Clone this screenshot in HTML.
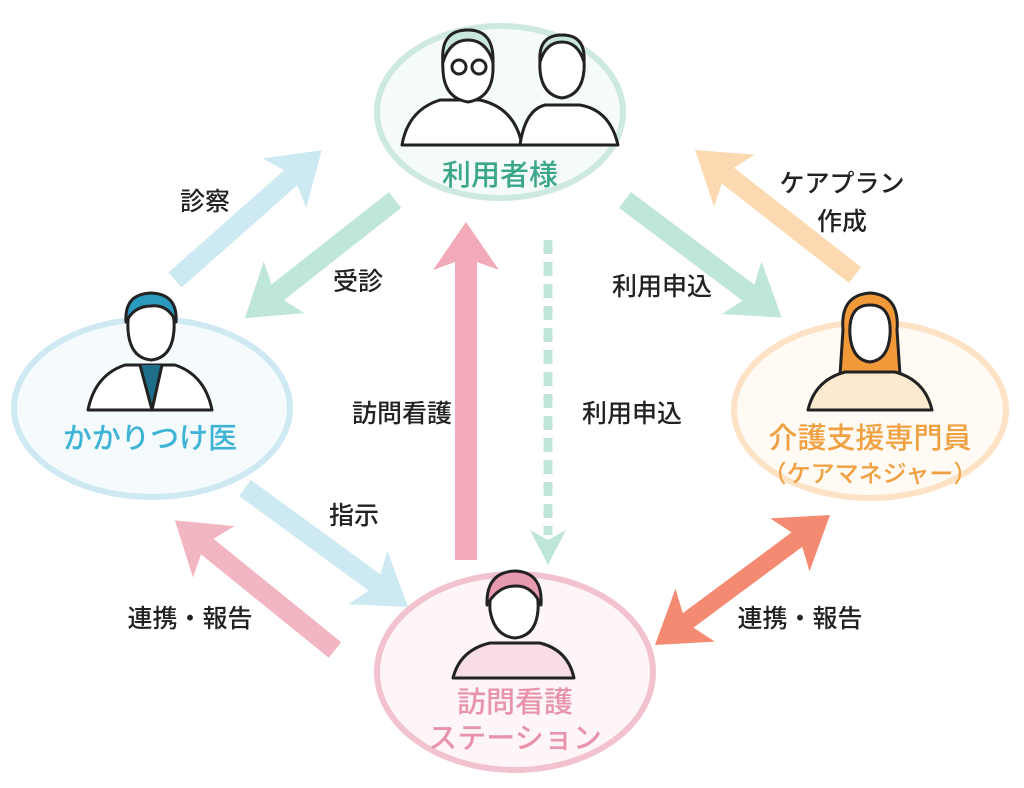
<!DOCTYPE html>
<html><head><meta charset="utf-8"><style>
html,body{margin:0;padding:0;background:#fff}
svg{display:block}
text{font-family:"Liberation Sans","Noto Sans CJK JP",sans-serif;font-weight:500}
</style></head><body>
<svg width="1024" height="788" viewBox="0 0 1024 788" xmlns="http://www.w3.org/2000/svg">
<defs>
<g id="ah"><polygon points="-50,-33 0,0 -50,33 -38,0"/></g>
</defs>
<ellipse cx="500" cy="112" rx="123" ry="86" fill="#f5fbf9" stroke="#cde9e1" stroke-width="6"/>
<ellipse cx="152" cy="408" rx="138" ry="89" fill="#f5fbfd" stroke="#cfe9f3" stroke-width="6"/>
<ellipse cx="870" cy="410" rx="136" ry="88" fill="#fffaf4" stroke="#fde2c6" stroke-width="6"/>
<ellipse cx="515" cy="672" rx="138" ry="98" fill="#fdf5f7" stroke="#f2c2cf" stroke-width="6"/>

<g fill="#cdeaf3"><g transform="translate(175,280) rotate(-41.5)"><rect x="0" y="-10" width="160" height="20"/><use href="#ah" x="196"/></g></g>
<g fill="#bfe6da"><g transform="translate(395,200) rotate(141.8)"><rect x="0" y="-10" width="155" height="20"/><use href="#ah" x="191"/></g></g>
<g fill="#bfe6da"><g transform="translate(625,200) rotate(36.9)"><rect x="0" y="-10" width="160" height="20"/><use href="#ah" x="196"/></g></g>
<g fill="#fcd9b0"><g transform="translate(855,275) rotate(-142)"><rect x="0" y="-10" width="167" height="20"/><use href="#ah" x="203"/></g></g>
<g fill="#cdeaf3"><g transform="translate(245,488) rotate(36.1)"><rect x="0" y="-10" width="166" height="20"/><use href="#ah" x="202"/></g></g>
<g fill="#f2b6c2"><g transform="translate(335,650) rotate(-141)"><rect x="0" y="-10" width="170" height="20"/><use href="#ah" x="206"/></g></g>
<g fill="#f58a72"><g transform="translate(655,645) rotate(-36.6)"><rect x="30" y="-9" width="158" height="18"/><use href="#ah" x="218"/><use href="#ah" transform="rotate(180)"/></g></g>
<g fill="#f2aab8"><rect x="455" y="255" width="22" height="305"/><polygon points="433,270 466,222 499,270 466,258"/></g>
<line x1="548" y1="240" x2="548" y2="535" stroke="#bfe6da" stroke-width="9" stroke-dasharray="14,8"/>
<polygon points="530,530 548,565 566,530 548,540" fill="#bfe6da"/>

<g stroke="#222" stroke-width="3" fill="#fff" stroke-linejoin="round">
<path d="M402,145 Q408,110 440,100 L480,100 Q515,108 522,145 Z"/>
<path d="M520,145 Q525,110 545,105 L580,105 Q610,110 618,145 Z"/>
<path d="M443,70 Q440,32 468,30 Q494,30 493,70 Q492,98 468,102 Q444,98 443,70Z" fill="#fff"/>
<path d="M443,62 Q440,30 468,30 Q494,30 493,62 Q486,40 468,40 Q450,40 443,62Z" fill="#c8e6dc"/>
<circle cx="459" cy="67" r="7" fill="none"/><circle cx="479" cy="67" r="7" fill="none"/>
<path d="M540,70 Q538,35 562,35 Q586,35 584,70 Q582,95 562,98 Q542,95 540,70Z"/>
<path d="M540,62 Q538,35 562,35 Q586,35 584,62 Q578,42 562,42 Q546,42 540,62Z" fill="#c8e6dc"/>
</g>
<g stroke="#222" stroke-width="3" fill="#fff" stroke-linejoin="round">
<path d="M88,410 Q95,375 125,365 L175,365 Q205,375 212,410 Z"/>
<path d="M140,365 L152,410 L162,365" fill="#1f6f8b"/>
<path d="M128,330 Q126,298 151,296 Q176,298 174,330 Q172,358 151,360 Q130,358 128,330Z"/>
<path d="M126,322 Q124,294 151,293 Q178,294 176,322 Q168,304 151,306 Q134,306 126,322Z" fill="#2a9bbf"/>
</g>
<g stroke="#222" stroke-width="3" fill="#fff" stroke-linejoin="round">
<path d="M843,330 Q840,295 870,293 Q900,295 897,330 L900,375 L840,375Z" fill="#f29a3a"/>
<path d="M808,410 Q815,380 845,372 L895,372 Q925,380 932,410 Z" fill="#fde8d0"/>
<path d="M850,335 Q848,305 870,305 Q892,305 890,335 Q888,360 870,362 Q852,360 850,335Z"/>
</g>
<g stroke="#222" stroke-width="3" fill="#fff" stroke-linejoin="round">
<path d="M453,678 Q460,650 490,643 L540,643 Q568,650 574,678 Z" fill="#f8dde4"/>
<path d="M490,610 Q488,578 515,577 Q540,578 538,610 Q536,636 515,638 Q494,636 490,610Z"/>
<path d="M487,605 Q486,572 515,571 Q543,572 541,605 Q532,585 515,586 Q498,586 487,605Z" fill="#e89ab0"/>
</g>

<g font-size="29" font-weight="700" text-anchor="middle">
<text x="500" y="185" fill="#3aa68a">利用者様</text>
<text x="150" y="448" fill="#3fb3d6">かかりつけ医</text>
<text x="870" y="448" fill="#f0a040">介護支援専門員</text>
<text x="870" y="482" fill="#f0a040" font-size="24">（ケアマネジャー）</text>
<text x="515" y="712" fill="#e893aa">訪問看護</text>
<text x="515" y="748" fill="#e893aa">ステーション</text>
</g>
<g font-size="25" fill="#222" text-anchor="middle" style="font-weight:700">
<text x="205" y="210">診察</text>
<text x="358" y="290">受診</text>
<text x="662" y="295">利用申込</text>
<text x="842" y="192">ケアプラン</text>
<text x="842" y="230">作成</text>
<text x="402" y="422">訪問看護</text>
<text x="632" y="422">利用申込</text>
<text x="354" y="524">指示</text>
<text x="190" y="627">連携・報告</text>
<text x="800" y="627">連携・報告</text>
</g>
</svg>
</body></html>
